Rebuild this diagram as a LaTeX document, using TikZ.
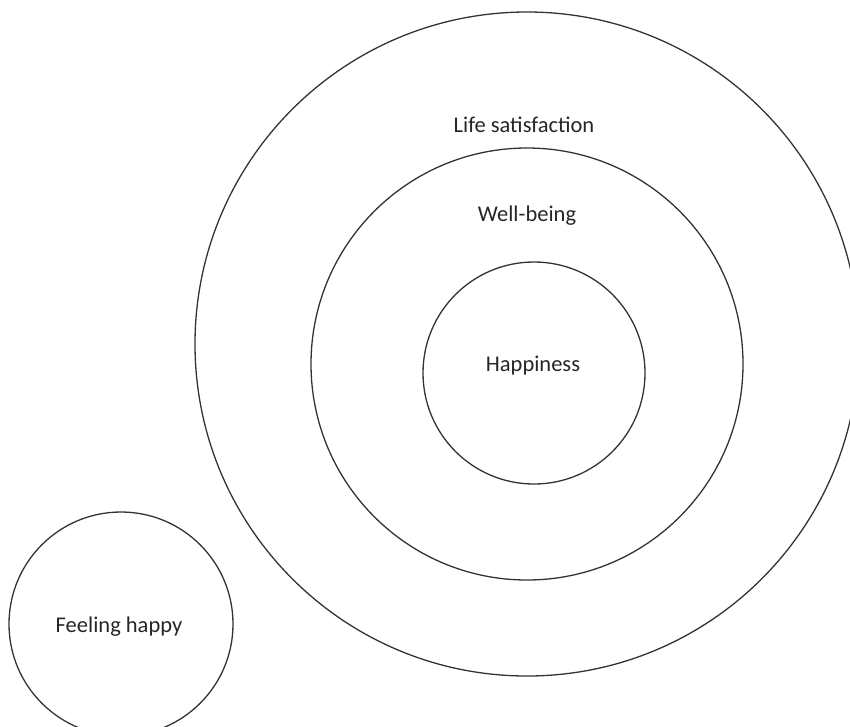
\documentclass[tikz,border=0pt]{standalone}
\usepackage{fontspec}
\setmainfont{Carlito}
\begin{document}
\begin{tikzpicture}[x=1pt,y=-1pt,
  ring/.style={circle,draw=black!80,line width=1.3pt,inner sep=0pt,minimum size=#1},
  lbl/.style={font=\fontsize{22.5}{26}\selectfont,text=black!85,inner sep=0pt}]
\useasboundingbox (0,0) rectangle (850,726);
\clip (0,0) rectangle (850,726);
\node[ring=664pt] (outer) at (527,344) {};
\node[ring=432pt] (middle) at (527,364) {};
\node[ring=222pt] (inner) at (534,373) {};
\node[ring=224pt] (feel) at (121,624) {};
\node[lbl] (happiness) at (533,366) {Happiness};
\node[lbl] (feeltext) at (119,627) {Feeling happy};
\node[lbl] (lifesat) at (524,125) {Life satisfaction};
\node[lbl] (wellbeing) at (527,216) {Well-being};
\end{tikzpicture}
\end{document}
